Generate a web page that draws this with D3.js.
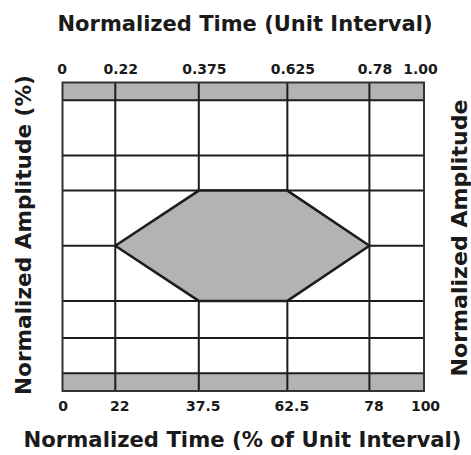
<!DOCTYPE html>
<html>
<head>
<meta charset="utf-8">
<script src="https://cdn.jsdelivr.net/npm/d3@7"></script>
<style>
  html, body { margin: 0; padding: 0; background: #fff; }
  svg { display: block; }
  text { font-family: "DejaVu Sans", Verdana, sans-serif; font-weight: bold; fill: #1a1a1a; }
</style>
</head>
<body>
<svg id="chart" width="471" height="455"></svg>
<script>
// ---- data ----
const timeUI = [0, 0.22, 0.375, 0.625, 0.78, 1.00];
const timeUILabels = ["0", "0.22", "0.375", "0.625", "0.78", "1.00"];
const timePctLabels = ["0", "22", "37.5", "62.5", "78", "100"];
const ampLevels = [0, 12.9, 26.5, 46.7, 66.9, 79.8, 100];
const ampBandLow = [-6.5, 0];
const ampBandHigh = [100, 106.5];
const maskTime = [0.22, 0.375, 0.625, 0.78, 0.625, 0.375];
const maskAmp = [46.7, 66.9, 66.9, 46.7, 26.5, 26.5];

// ---- layout ----
const L = 62.5, R = 424, T = 82.5, B = 391;
const xFrac = [0, 0.146, 0.377, 0.622, 0.849, 1]; // schematic (non-proportional) spacing
const x = d3.scaleLinear().domain(timeUI).range(xFrac.map(f => L + f * (R - L)));
const y = d3.scaleLinear().domain([ampBandLow[0], ampBandHigh[1]]).range([B, T]);

const svg = d3.select("#chart");
const lineCol = "#1c1c1c";
const grey = "#b3b3b3";

// bands
[ampBandLow, ampBandHigh].forEach(b => {
  svg.append("rect")
    .attr("x", x(0)).attr("width", x(1) - x(0))
    .attr("y", y(b[1])).attr("height", y(b[0]) - y(b[1]))
    .attr("fill", grey);
});

// horizontal grid lines
svg.append("g").selectAll("line").data(ampLevels).join("line")
  .attr("x1", x(0)).attr("x2", x(1))
  .attr("y1", d => y(d)).attr("y2", d => y(d))
  .attr("stroke", lineCol).attr("stroke-width", 2);

// vertical grid lines
svg.append("g").selectAll("line").data(timeUI.slice(1, -1)).join("line")
  .attr("x1", d => x(d)).attr("x2", d => x(d))
  .attr("y1", y(ampBandHigh[1])).attr("y2", y(ampBandLow[0]))
  .attr("stroke", lineCol).attr("stroke-width", 2);

// mask hexagon (drawn over the grid)
const pts = maskTime.map((t, i) => [x(t), y(maskAmp[i])]);
svg.append("path")
  .attr("d", d3.line()(pts) + "Z")
  .attr("fill", grey)
  .attr("stroke", lineCol)
  .attr("stroke-width", 2.5)
  .attr("stroke-linejoin", "miter");

// border
svg.append("rect")
  .attr("x", x(0)).attr("y", y(ampBandHigh[1]))
  .attr("width", x(1) - x(0)).attr("height", y(ampBandLow[0]) - y(ampBandHigh[1]))
  .attr("fill", "none").attr("stroke", "#333").attr("stroke-width", 2);

// top axis
const topAxis = svg.append("g").attr("transform", `translate(0,${T})`)
  .call(d3.axisTop(x).tickValues(timeUI).tickFormat((d, i) => timeUILabels[i]).tickSize(0).tickPadding(9));
topAxis.select(".domain").remove();
topAxis.selectAll("text").attr("font-size", 14).attr("font-family", null).attr("fill", "#1a1a1a")
  .attr("dx", (d, i) => (i === 0 ? -1 : i === 5 ? -4 : 5));

// bottom axis
const botAxis = svg.append("g").attr("transform", `translate(0,${B})`)
  .call(d3.axisBottom(x).tickValues(timeUI).tickFormat((d, i) => timePctLabels[i]).tickSize(0).tickPadding(10));
botAxis.select(".domain").remove();
botAxis.selectAll("text").attr("font-size", 14).attr("font-family", null).attr("fill", "#1a1a1a")
  .attr("dx", (d, i) => (i === 0 ? 0 : i === 5 ? 1 : 4));

// titles
const tSize = 21.5;
svg.append("text").attr("x", 245).attr("y", 31).attr("text-anchor", "middle")
  .attr("font-size", tSize).attr("textLength", 375).attr("lengthAdjust", "spacingAndGlyphs")
  .text("Normalized Time (Unit Interval)");
svg.append("text").attr("x", 242.5).attr("y", 447).attr("text-anchor", "middle")
  .attr("font-size", tSize).attr("textLength", 438).attr("lengthAdjust", "spacingAndGlyphs")
  .text("Normalized Time (% of Unit Interval)");
svg.append("text").attr("transform", "translate(31,235) rotate(-90)").attr("text-anchor", "middle")
  .attr("font-size", tSize).attr("textLength", 320).attr("lengthAdjust", "spacingAndGlyphs")
  .text("Normalized Amplitude (%)");
svg.append("text").attr("transform", "translate(467,238) rotate(-90)").attr("text-anchor", "middle")
  .attr("font-size", tSize).attr("textLength", 277).attr("lengthAdjust", "spacingAndGlyphs")
  .text("Normalized Amplitude");
</script>
</body>
</html>
